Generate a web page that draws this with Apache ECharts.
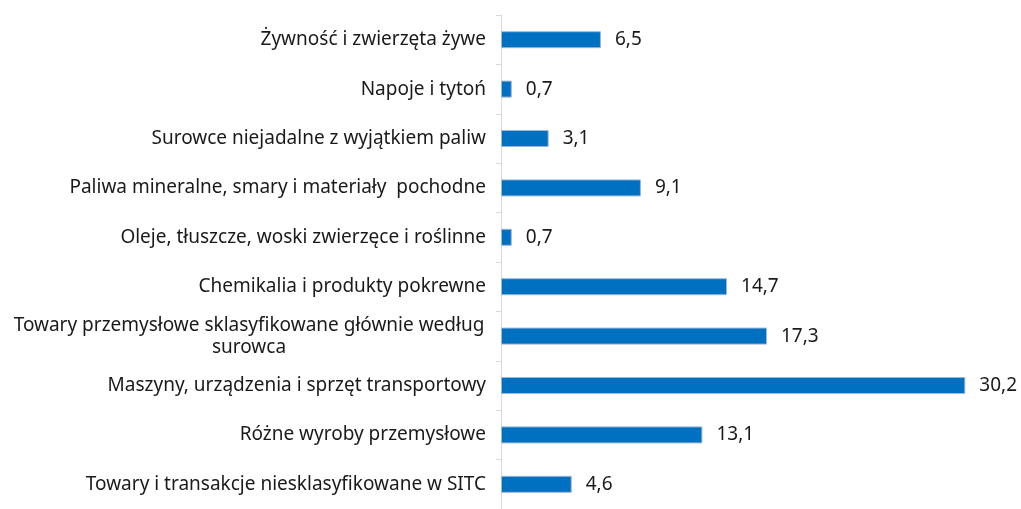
<!DOCTYPE html>
<html>
<head>
<meta charset="utf-8">
<script src="https://cdn.jsdelivr.net/npm/echarts@6/dist/echarts.min.js"></script>
<style>
  html, body { margin: 0; padding: 0; background: #fff; }
  #chart { width: 1021px; height: 509px; }
</style>
</head>
<body>
<div id="chart"></div>
<script>
// kategorie SITC i udziały (%)
const categories = [
  'Żywność i zwierzęta żywe',
  'Napoje i tytoń',
  'Surowce niejadalne z wyjątkiem paliw',
  'Paliwa mineralne, smary i materiały  pochodne',
  'Oleje, tłuszcze, woski zwierzęce i roślinne',
  'Chemikalia i produkty pokrewne',
  'Towary przemysłowe sklasyfikowane głównie według\nsurowca',
  'Maszyny, urządzenia i sprzęt transportowy',
  'Różne wyroby przemysłowe',
  'Towary i transakcje niesklasyfikowane w SITC'
];
const values = [6.5, 0.7, 3.1, 9.1, 0.7, 14.7, 17.3, 30.2, 13.1, 4.6];

const chart = echarts.init(document.getElementById('chart'));

const option = {
  animation: false,
  grid: { left: 501, right: 28, top: 15, bottom: -6, containLabel: false },
  xAxis: {
    type: 'value',
    min: 0,
    max: 32,
    show: false
  },
  yAxis: {
    type: 'category',
    inverse: true,
    data: categories,
    axisLine: { show: true, lineStyle: { color: '#d9d9d9', width: 1 } },
    axisTick: { show: true, length: 5, lineStyle: { color: '#d9d9d9' } },
    axisLabel: {
      color: '#1a1a1a',
      fontFamily: 'Noto Sans',
      fontSize: 19,
      margin: 15,
      formatter: function (val) {
        if (val.indexOf('\n') >= 0) {
          return val.split('\n').map(s => '{c|' + s + '}').join('\n');
        }
        return val;
      },
      rich: {
        c: {
          width: 474,
          align: 'center',
          fontFamily: 'Noto Sans',
          fontSize: 19,
          color: '#1a1a1a',
          lineHeight: 22
        }
      }
    }
  },
  series: [{
    type: 'bar',
    data: values,
    barWidth: 17,
    itemStyle: {
      color: '#0070c0',
      borderColor: '#9fb4dc',
      borderWidth: 1
    },
    label: {
      show: true,
      position: 'right',
      distance: 14,
      color: '#1a1a1a',
      fontFamily: 'Noto Sans',
      fontSize: 19,
      formatter: p => String(p.value).replace('.', ',')
    }
  }]
};

chart.setOption(option);
</script>
</body>
</html>
